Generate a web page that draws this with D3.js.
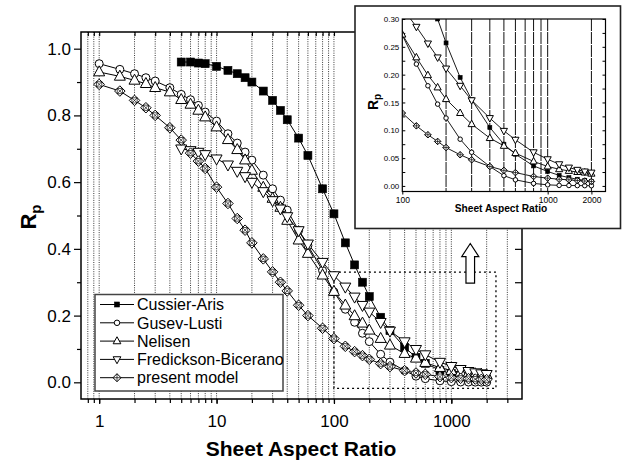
<!DOCTYPE html>
<html><head><meta charset="utf-8">
<script src="https://cdn.jsdelivr.net/npm/d3@7/dist/d3.min.js"></script>
<style>
body{margin:0;background:#fff}
svg{display:block}
text{font-family:"Liberation Sans",Arial,Helvetica,sans-serif;fill:#000}
</style>
</head><body>
<svg id="c" width="622" height="462"></svg>
<script>
// ---------- DATA ----------
const xFrom1 = [1,1.5,2,2.5,3,4,5,6,7,8,10,12.5,15,17.5,20,25,30,35,40,50,60,80,100,125,150,175,200,250,300,400,500,600,800,1000,1200,1400,1600,1800,2000];
const xFrom5 = [5,6,7,8,10,12.5,15,17.5,20,25,30,35,40,50,60,80,100,125,150,175,200,250,300,400,500,600,800,1000,1200,1400,1600,1800,2000];
const cussierAris = [0.96,0.96,0.957,0.955,0.947,0.935,0.925,0.913,0.90,0.873,0.845,0.815,0.787,0.732,0.68,0.58,0.505,0.418,0.352,0.30,0.257,0.195,0.155,0.105,0.075,0.057,0.036,0.026,0.019,0.015,0.012,0.010,0.008];
const gusevLusti = [0.955,0.938,0.925,0.913,0.903,0.883,0.863,0.847,0.83,0.81,0.783,0.745,0.717,0.69,0.666,0.621,0.58,0.546,0.516,0.455,0.41,0.335,0.271,0.219,0.18,0.147,0.122,0.084,0.0605,0.035,0.0185,0.011,0.0045,0.002,0.001,0.0008,0.0006,0.0005,0.0004];
const nelisen = [0.93,0.917,0.905,0.895,0.883,0.87,0.847,0.833,0.815,0.795,0.765,0.727,0.697,0.666,0.635,0.584,0.551,0.524,0.485,0.426,0.386,0.321,0.272,0.231,0.199,0.177,0.156,0.131,0.111,0.086,0.072,0.059,0.044,0.035,0.030,0.027,0.025,0.024,0.022];
const fredicksonBicerano = [0.70,0.695,0.69,0.683,0.67,0.652,0.633,0.617,0.60,0.572,0.545,0.52,0.497,0.455,0.415,0.36,0.32,0.286,0.256,0.231,0.211,0.18,0.154,0.122,0.099,0.083,0.0605,0.048,0.039,0.033,0.029,0.026,0.024];
const presentModel = [0.893,0.873,0.845,0.823,0.80,0.763,0.726,0.687,0.663,0.641,0.585,0.536,0.491,0.456,0.418,0.37,0.331,0.30,0.274,0.231,0.2,0.162,0.131,0.108,0.092,0.08,0.069,0.056,0.047,0.035,0.028,0.024,0.017,0.014,0.012,0.011,0.0097,0.0088,0.008];

const seriesNames = ["Cussier-Aris","Gusev-Lusti","Nelisen","Fredickson-Bicerano","present model"];
const seriesX = [xFrom5, xFrom1, xFrom1, xFrom5, xFrom1];
const seriesY = [cussierAris, gusevLusti, nelisen, fredicksonBicerano, presentModel];
const seriesMarker = ["square","circle","tri","dtri","dia"];

const mainXTicks = [1,10,100,1000];
const mainYTicks = [0.0,0.2,0.4,0.6,0.8,1.0];
const mainXDomain = [0.7,4000];
const mainYDomain = [-0.05,1.05];
const insetXTicks = [100,1000,2000];
const insetYTicks = [0.00,0.05,0.10,0.15,0.20,0.25,0.30];
const insetXDomain = [100,2500];
const insetYDomain = [-0.01,0.30];
const insetGridX = [200,300,400,500,600,700,800,900,1000,2000];
const zoomBox = {x0:100, x1:2400, y0:-0.018, y1:0.33};
const arrowAt = {x:1450, y:0.416};

// ---------- DRAW ----------
const svg = d3.select("#c");
const FONT = '"Liberation Sans",Arial,Helvetica,sans-serif';

function marker(g, type, s, inner) {
  if (type === "square") {
    g.append("rect").attr("x",-s/2).attr("y",-s/2).attr("width",s).attr("height",s)
      .attr("fill","#000").attr("stroke","#000").attr("stroke-width",0.6);
  } else if (type === "circle") {
    g.append("circle").attr("r",s/2).attr("fill","#fff").attr("stroke","#000").attr("stroke-width",1);
  } else if (type === "tri") {
    const w=s*1.1, h=s;
    g.append("path").attr("d",`M0,${-0.62*h}L${w/2},${0.38*h}L${-w/2},${0.38*h}Z`)
      .attr("fill","#fff").attr("stroke","#000").attr("stroke-width",1);
  } else if (type === "dtri") {
    const w=s*1.1, h=s;
    g.append("path").attr("d",`M0,${0.62*h}L${w/2},${-0.38*h}L${-w/2},${-0.38*h}Z`)
      .attr("fill","#fff").attr("stroke","#000").attr("stroke-width",1);
  } else if (type === "dia") {
    const r=s/2, q=r/2;
    g.append("path").attr("d",`M0,${-r}L${r},0L0,${r}L${-r},0Z`)
      .attr("fill","#fff").attr("stroke","#000").attr("stroke-width",1);
    const d = inner === "plus"
      ? `M0,${-r}V${r} M${-r},0H${r}`
      : `M${-q},${-q}H${q}V${q}H${-q}Z M${-q},${-q}L${q},${q} M${q},${-q}L${-q},${q}`;
    g.append("path").attr("d",d).attr("fill","none").attr("stroke","#000").attr("stroke-width",0.7);
  }
}

// ===== main plot =====
const M = {l:81, r:522, t:32, b:399};
const x = d3.scaleLog().domain(mainXDomain).range([M.l, M.r]);
const y = d3.scaleLinear().domain(mainYDomain).range([M.b, M.t]);

const gridVals = x.ticks().filter(v => v > mainXDomain[0]*1.001 && v < mainXDomain[1]*0.999);
svg.append("g").selectAll("line").data(gridVals).join("line")
  .attr("x1",d=>x(d)).attr("x2",d=>x(d)).attr("y1",M.t).attr("y2",M.b)
  .attr("stroke","#222").attr("stroke-width",0.9).attr("stroke-dasharray","1,1.3");

const minorY = d3.range(0,11).map(i=>i/10);
svg.append("g").attr("transform",`translate(0,${M.b})`)
  .call(d3.axisBottom(x).tickValues(gridVals).tickFormat("").tickSize(4))
  .call(g=>g.select(".domain").remove());
svg.append("g").attr("transform",`translate(0,${M.b})`)
  .call(d3.axisBottom(x).tickValues(mainXTicks).tickFormat(d3.format("d")).tickSize(5).tickPadding(11))
  .call(g=>g.select(".domain").remove())
  .call(g=>g.selectAll("text").attr("font-size",17).attr("font-family",FONT));
svg.append("g").attr("transform",`translate(0,${M.t})`)
  .call(d3.axisTop(x).tickValues(gridVals).tickFormat("").tickSize(-4))
  .call(g=>g.select(".domain").remove());
svg.append("g").attr("transform",`translate(${M.l},0)`)
  .call(d3.axisLeft(y).tickValues(minorY.filter(v=>Math.round(v*10)%2===1)).tickFormat("").tickSize(4))
  .call(g=>g.select(".domain").remove());
svg.append("g").attr("transform",`translate(${M.l},0)`)
  .call(d3.axisLeft(y).tickValues(mainYTicks).tickFormat(d3.format(".1f")).tickSize(7).tickPadding(3))
  .call(g=>g.select(".domain").remove())
  .call(g=>g.selectAll("text").attr("font-size",17).attr("font-family",FONT));
svg.append("g").attr("transform",`translate(${M.r},0)`)
  .call(d3.axisRight(y).tickValues(minorY).tickFormat("").tickSize(-7))
  .call(g=>g.select(".domain").remove());
svg.selectAll(".tick line").attr("stroke","#000").attr("stroke-width",1.2);

svg.append("rect").attr("x",M.l).attr("y",M.t).attr("width",M.r-M.l).attr("height",M.b-M.t)
  .attr("fill","none").attr("stroke","#000").attr("stroke-width",1.5);

svg.append("rect")
  .attr("x",x(zoomBox.x0)).attr("y",y(zoomBox.y1))
  .attr("width",x(zoomBox.x1)-x(zoomBox.x0)).attr("height",y(zoomBox.y0)-y(zoomBox.y1))
  .attr("fill","none").attr("stroke","#000").attr("stroke-width",1.3).attr("stroke-dasharray","2,3");

{
  const ax=x(arrowAt.x), ay=y(arrowAt.y);
  const hw=8.5, hh=13, sw=4.3, L=39.5;
  svg.append("path")
    .attr("d",`M${ax},${ay}L${ax+hw},${ay+hh}L${ax+sw},${ay+hh}L${ax+sw},${ay+L}L${ax-sw},${ay+L}L${ax-sw},${ay+hh}L${ax-hw},${ay+hh}Z`)
    .attr("fill","#fff").attr("stroke","#000").attr("stroke-width",1.2);
}

const line = d3.line();
seriesNames.forEach((name,i)=>{
  const pts = seriesX[i].map((v,j)=>[x(v), y(seriesY[i][j])]);
  svg.append("path").attr("d",line(pts)).attr("fill","none").attr("stroke","#000").attr("stroke-width",1);
});
const msizeMain = {square:8, circle:8, tri:10, dtri:10, dia:10.5};
seriesNames.forEach((name,i)=>{
  const g = svg.append("g");
  seriesX[i].forEach((v,j)=>{
    const m = g.append("g").attr("transform",`translate(${x(v)},${y(seriesY[i][j])})`);
    marker(m, seriesMarker[i], msizeMain[seriesMarker[i]]);
  });
});

svg.append("text").attr("x",301).attr("y",456).attr("text-anchor","middle")
  .attr("font-size",21).attr("font-weight","bold").text("Sheet Aspect Ratio");
{
  const t = svg.append("text").attr("transform","translate(36,217) rotate(-90)")
    .attr("text-anchor","middle").attr("font-size",22).attr("font-weight","bold");
  t.append("tspan").text("R");
  t.append("tspan").attr("font-size",15).attr("dy",5).text("p");
}

// legend
{
  const lx=95, ly=294.5, lw=188, lh=96.5;
  svg.append("rect").attr("x",lx).attr("y",ly).attr("width",lw).attr("height",lh)
    .attr("fill","#fff").attr("stroke","#444").attr("stroke-width",1.5);
  const msLeg = {square:5, circle:5.5, tri:7, dtri:7, dia:8};
  seriesNames.forEach((name,i)=>{
    const yy = 304.5 + i*18.3;
    svg.append("line").attr("x1",100).attr("x2",134).attr("y1",yy).attr("y2",yy)
      .attr("stroke","#000").attr("stroke-width",1);
    marker(svg.append("g").attr("transform",`translate(117,${yy})`), seriesMarker[i], msLeg[seriesMarker[i]], "plus");
    svg.append("text").attr("x",137).attr("y",yy).attr("dy","0.36em")
      .attr("font-size",16).text(name);
  });
}

// ===== inset =====
const B = {x:355, y:6, w:265.5, h:222.5};
svg.append("rect").attr("x",B.x).attr("y",B.y).attr("width",B.w).attr("height",B.h)
  .attr("fill","#fff").attr("stroke","#222").attr("stroke-width",1.6);
const I = {l:402.3, r:605.5, t:19, b:191.5};
const xi = d3.scaleLog().domain(insetXDomain).range([I.l, I.r]);
const yi = d3.scaleLinear().domain(insetYDomain).range([I.b, I.t]);
svg.append("clipPath").attr("id","ic").append("rect")
  .attr("x",I.l).attr("y",I.t).attr("width",I.r-I.l).attr("height",I.b-I.t);

svg.append("g").selectAll("line").data(insetGridX).join("line")
  .attr("x1",d=>xi(d)).attr("x2",d=>xi(d)).attr("y1",I.t).attr("y2",I.b)
  .attr("stroke","#111").attr("stroke-width",1).attr("stroke-dasharray","12,1");

const insetMinorY = d3.range(0,13).map(i=>i*0.025);
svg.append("g").attr("transform",`translate(${I.l},0)`)
  .call(d3.axisLeft(yi).tickValues(insetMinorY).tickFormat("").tickSize(-3))
  .call(g=>g.select(".domain").remove());
svg.append("g").attr("transform",`translate(${I.l},0)`)
  .call(d3.axisLeft(yi).tickValues(insetYTicks).tickFormat(d3.format(".2f")).tickSize(0).tickPadding(3))
  .call(g=>g.select(".domain").remove())
  .call(g=>g.selectAll("text").attr("font-size",8).attr("font-family",FONT).attr("fill","#222"));
svg.append("g").attr("transform",`translate(${I.r},0)`)
  .call(d3.axisRight(yi).tickValues(insetMinorY).tickFormat("").tickSize(-3))
  .call(g=>g.select(".domain").remove());
svg.append("g").attr("transform",`translate(0,${I.b})`)
  .call(d3.axisBottom(xi).tickValues(insetXTicks).tickFormat(d3.format("d")).tickSize(3).tickPadding(2))
  .call(g=>g.select(".domain").remove())
  .call(g=>g.selectAll("text").attr("font-size",8.5).attr("font-family",FONT).attr("fill","#222"));
svg.selectAll(".tick line").attr("stroke","#000");

const ig = svg.append("g").attr("clip-path","url(#ic)");
seriesNames.forEach((name,i)=>{
  const pts = seriesX[i].map((v,j)=>[xi(v), yi(seriesY[i][j])]).filter((p,j)=>seriesX[i][j]>=80);
  ig.append("path").attr("d",line(pts)).attr("fill","none").attr("stroke","#000").attr("stroke-width",0.9);
});
const msizeInset = {square:4, circle:4.5, tri:6.5, dtri:6.5, dia:6.5};
seriesNames.forEach((name,i)=>{
  seriesX[i].forEach((v,j)=>{
    if (v < 100) return;
    const m = ig.append("g").attr("transform",`translate(${xi(v)},${yi(seriesY[i][j])})`);
    marker(m, seriesMarker[i], msizeInset[seriesMarker[i]], "plus");
  });
});
svg.append("rect").attr("x",I.l).attr("y",I.t).attr("width",I.r-I.l).attr("height",I.b-I.t)
  .attr("fill","none").attr("stroke","#000").attr("stroke-width",1.2);

svg.append("text").attr("x",501).attr("y",211.5).attr("text-anchor","middle")
  .attr("font-size",10.2).attr("font-weight","bold").text("Sheet Aspect Ratio");
{
  const t = svg.append("text").attr("transform","translate(378,102) rotate(-90)")
    .attr("text-anchor","middle").attr("font-size",14).attr("font-weight","bold");
  t.append("tspan").text("R");
  t.append("tspan").attr("font-size",10).attr("dy",3).text("p");
}
</script>
</body></html>
